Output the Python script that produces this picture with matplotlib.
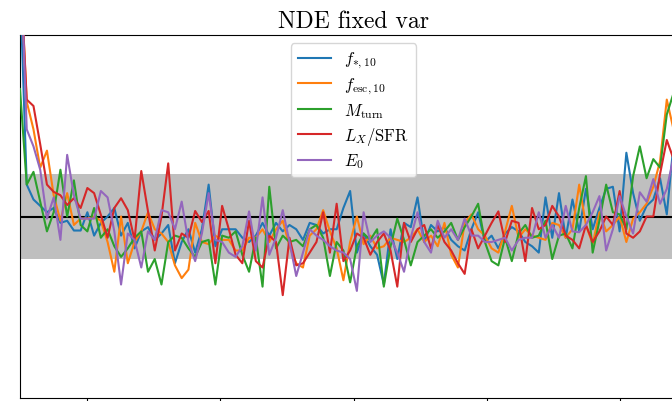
import matplotlib
matplotlib.use('Agg')

import matplotlib.pyplot as plt
import numpy as np


plt.rcParams['mathtext.fontset'] = 'cm'
plt.rcParams['font.family'] = 'serif'
plt.rcParams['font.serif'] = ['cmr10', 'DejaVu Serif']
plt.rcParams['axes.formatter.use_mathtext'] = True

# Normalised residuals of the NDE for each parameter, on a common grid.
n_pts = 100
grid = np.linspace(-2.5, 2.5, n_pts)
xticks = [-2, -1, 0, 1, 2]

labels = [r'$f_{*,10}$', r'$f_{\rm esc,10}$', r'$M_{\rm turn}$',
          r'$L_X/{\rm SFR}$', r'$E_0$']

f_star = [
    5.5, 0.75, 0.4, 0.25, 0.1, 0.2, -0.15, -0.1, -0.33, -0.33, 0.1, -0.45, -0.15, 0.0, 0.2, -0.45, -0.15,
    -0.75, -0.35, -0.25, -0.55, -0.4, -0.2, -1.1, -0.6, -0.3, -0.85, -0.3, 0.75, -0.7, -0.3, -0.3, -0.3,
    -0.5, -0.6, -0.45, -0.15, -0.45, -0.15, -0.35, -0.2, -0.3, -0.55, -0.15, -0.2, -0.4, -0.3, -0.3, 0.2,
    0.6, -0.85, -0.4, -0.7, -0.9, -1.6, -0.3, -1.0, -0.15, -0.25, 0.45, -0.6, -0.2, -0.35, -0.25, -0.55, -0.7,
    -0.8, -0.3, 0.1, -0.6, -0.45, -0.75, -0.4, -0.25, -0.35, -0.6, -0.7, -0.85, 0.45, -0.5,
    0.55, -0.5, 0.4, -0.35, 0.65, -0.3, 0.2, 0.65, 0.7, -0.35, 1.5, 0.55, -0.1, 0.25, 0.4, 0.9, 0.05, 1.7, 1.6, 1.8,
]

f_esc = [
    6.0, 2.7, 2.05, 1.15, 1.55, 0.5, -0.1, 0.55, -0.2, -0.05, -0.05, 0.0, -0.1, -0.6, -1.3, 0.0, -1.1,
    -0.6, -0.35, 0.1, -0.3, -0.4, -0.6, -1.15, -1.45, -1.25, -0.15, -0.6, -0.65, -0.45, -0.55, -0.55, -0.8,
    -0.8, -0.5, -0.5, -0.3, -0.6, -0.3, -0.1, -0.7, -1.1, -1.2, -0.45, -0.3, 0.15, -0.35, -0.75, -1.5, -0.6,
    0.0, -0.65, -0.45, -0.75, -0.7, -0.5, -0.55, -0.6, -0.5, -0.3, -0.6, -0.45, -0.7, -0.15, -0.9, -1.2,
    -0.15, 0.05, -0.3, -0.45, -0.75, -0.85, -0.35, 0.25, -0.5, -0.3, -0.45, -0.5, -0.55, -0.15,
    -0.2, -0.5, -0.3, 0.75, -0.2, -0.65, 0.1, -0.35, -0.2, 0.0, -0.6, -0.05, 0.1, 0.3, 0.7, 1.3, 2.75, 2.05, 2.3, 2.5,
]

m_turn = [
    3.0, 0.75, 1.05, 0.35, -0.35, 0.1, 1.1, 0.0, 0.85, -0.2, -0.35, 0.2, -0.5, -0.3, -0.7, -0.95, -0.75,
    -0.5, -0.35, -1.3, -1.0, -1.6, -0.6, -0.45, -0.5, -0.75, -0.95, -0.6, -0.55, -1.6, -0.45, -0.5, -0.35,
    -0.9, -1.3, -0.5, -1.65, 0.7, -0.75, -0.45, -0.6, -0.55, -0.7, -0.3, -0.2, -0.5, -1.4, -0.6, -0.8, -1.55,
    -0.7, -0.4, -0.55, -0.3, -1.65, -0.7, -0.05, -0.55, -1.15, -0.6, -0.45, -0.3, -0.5, -0.35, -0.15, -0.55,
    -0.25, 0.0, 0.3, -0.6, -1.05, -1.15, -0.5, -1.05, -0.4, -0.2, -0.5, -0.45, -0.1, -1.0,
    -0.45, -0.4, -0.75, 0.2, 0.95, -0.85, -0.1, 0.75, 0.1, 0.05, -0.3, 0.95, 1.65, 0.9, 1.35, 1.15, 2.4, 2.9, 3.2, 3.3,
]

lx_sfr = [
    6.0, 2.75, 2.6, 1.7, 0.75, 0.58, 0.5, 0.27, 0.43, 0.2, 0.67, 0.55, 0.04, -0.5, 0.2, 0.43, 0.15,
    -0.55, 1.07, 0.12, -0.8, 0.0, 1.25, -0.8, -0.4, -0.5, 0.13, -0.13, 0.13, -1.1, 0.25, -0.3, -0.9,
    -1.1, -0.1, -1.05, -1.2, -0.45, -0.6, -1.85, -0.5, -1.15, -1.1, -0.85, -0.6, 0.1, -0.85, 0.3, -1.05, -0.8,
    -0.4, -0.5, -0.9, -0.6, -0.4, -0.8, -1.65, -0.15, -0.6, -0.3, -0.2, -0.75, -0.2, -0.6, -0.8, -1.1,
    -1.35, -0.3, -0.75, -0.45, -0.15, 0.12, -0.6, -0.1, -0.15, -1.05, 0.2, -0.3, -0.2, 0.25,
    0.0, -0.45, -0.55, -0.75, -0.2, -0.6, -0.35, 0.0, -0.2, 0.6, -0.4, -0.5, -0.35, 0.0, 0.0, 1.0, 1.8, 1.35, 1.6, 1.5,
]

e_zero = [
    6.5, 2.05, 1.65, 1.1, -0.05, 0.45, -0.55, 1.45, 0.5, -0.05, -0.05, -0.05, 0.6, 0.45, -0.35, -1.6, -0.4,
    -0.55, -1.2, -0.35, -0.55, 0.15, 0.1, -0.3, 0.35, -0.6, -1.05, -0.4, 0.55, -0.55, -0.6, -0.85, -0.95,
    -0.7, 0.12, -0.8, 0.45, -0.9, -0.5, 0.15, -0.6, -1.4, -0.85, -0.3, -0.45, -0.55, -0.7, -0.8, -0.85,
    -1.0, -1.75, 0.1, -0.6, -0.45, -0.35, -0.5, -0.85, -1.3, -0.5, 0.1, -0.6, -0.85, -0.1, -0.5, -0.3, -0.55,
    -0.05, -0.45, -0.45, -0.6, -0.6, -0.55, -0.5, -0.8, -0.55, -0.5, -0.5, 0.1, -0.5, -0.2,
    -0.5, 0.25, -0.35, -0.37, -0.2, 0.1, 0.48, -0.8, -0.3, 0.48, 0.0, -0.4, 0.57, 0.35, 0.88, 0.3, 0.65, 1.4, 1.5, 1.4,
]

series = [f_star, f_esc, m_turn, lx_sfr, e_zero]


def plot_nde(out_file):
    fig = plt.figure(figsize=(6.72, 4.02), dpi=100)
    # panel runs past the right and bottom edges of the canvas
    ax = fig.add_axes([20 / 672, 3 / 402, 667 / 672, 363 / 402])

    ax.axhspan(-1, 1, color='gray', alpha=0.5, lw=0, zorder=1)
    ax.axhline(0, color='k', lw=1.5, zorder=2)

    for vals, lab in zip(series, labels):
        ax.plot(grid, vals, lw=1.5, label=lab, zorder=3)

    ax.set_xlim(-2.5, 2.5)
    ax.set_ylim(-4.27, 4.27)
    ax.set_xticks(xticks)
    ax.set_xticklabels([])
    ax.set_yticks([])

    ax.set_title('NDE fixed var', fontsize=17)
    ax.legend(loc='upper center', fontsize=12, labelspacing=0.3)

    fig.savefig(out_file, dpi=100)
    plt.close(fig)


def main():
    plot_nde('out.png')


if __name__ == '__main__':
    main()
